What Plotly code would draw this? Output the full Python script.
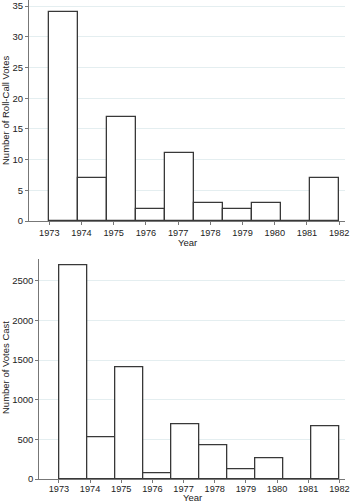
import numpy as np
import plotly.graph_objects as go

# ---- data ----
bin_start = 1973.0
bin_width = 0.9
roll_call_votes = [34, 7, 17, 2, 11, 3, 2, 3, 0, 7]
votes_cast = [2700, 530, 1407, 76, 693, 424, 126, 260, 0, 663]
year_ticks = [1973, 1974, 1975, 1976, 1977, 1978, 1979, 1980, 1981, 1982]
top_yticks = [0, 5, 10, 15, 20, 25, 30, 35]
bot_yticks = [0, 500, 1000, 1500, 2000, 2500]

centers = bin_start + bin_width * (np.arange(len(roll_call_votes)) + 0.5)

FONT = "Liberation Sans, Arial, sans-serif"
TXT = "#222222"
bar_style = dict(marker=dict(color="white", line=dict(color="#383838", width=1.3)),
                 width=bin_width, showlegend=False, hoverinfo="skip")

fig = go.Figure()
fig.add_trace(go.Bar(x=centers, y=roll_call_votes, xaxis="x", yaxis="y", **bar_style))
fig.add_trace(go.Bar(x=centers, y=votes_cast, xaxis="x2", yaxis="y2", **bar_style))

common_x = dict(range=[1972.37, 1982.18], tickvals=year_ticks, ticks="outside", ticklen=3,
                tickcolor="#777", showline=True, linecolor="#777", linewidth=1, automargin=False,
                showgrid=False, zeroline=False, tickfont=dict(family=FONT, size=9.2, color=TXT))
common_y = dict(ticks="outside", ticklen=3, tickcolor="#777", showline=True, linecolor="#777",
                linewidth=1, showgrid=True, gridcolor="#e4eef0", gridwidth=1, zeroline=False,
                automargin=False, tickfont=dict(family=FONT, size=9.5, color=TXT))

L, R, T, B = 29, 5, 0, 25
W, H = 350, 504
ph = H - T - B
pw = W - L - R

def py(px):
    return (H - B - px) / ph

def pxx(px):
    return (px - L) / pw

fig.update_layout(
    width=W, height=H, margin=dict(l=L, r=R, t=T, b=B, autoexpand=False),
    paper_bgcolor="white", plot_bgcolor="white", bargap=0,
    xaxis=dict(domain=[0, 1], anchor="y", **common_x),
    yaxis=dict(domain=[py(221), 1], anchor="x", range=[0, 36], tickvals=top_yticks, **common_y),
    xaxis2=dict(domain=[pxx(39.3), 1], anchor="y2", ticklabelstandoff=-2, **common_x),
    yaxis2=dict(domain=[0, py(259.3)], anchor="x2", range=[0, 2773], tickvals=bot_yticks, **common_y),
)

ann_font = dict(family=FONT, size=9.5, color=TXT)
ann_common = dict(xref="paper", yref="paper", showarrow=False, font=ann_font, xanchor="center")
fig.add_annotation(text="Year", x=pxx(187), y=py(242.5), yanchor="middle", **ann_common)
fig.add_annotation(text="Year", x=pxx(192), y=py(504.5), yanchor="bottom", **ann_common)
fig.add_annotation(text="Number of Roll-Call Votes", x=pxx(5), y=py(110), yanchor="middle",
                   textangle=-90, **ann_common)
fig.add_annotation(text="Number of Votes Cast", x=pxx(5), y=py(368), yanchor="middle",
                   textangle=-90, **ann_common)

fig.write_html("out.html", config={"displayModeBar": False},
               post_script="document.body.style.margin='0';document.body.style.padding='0';")
